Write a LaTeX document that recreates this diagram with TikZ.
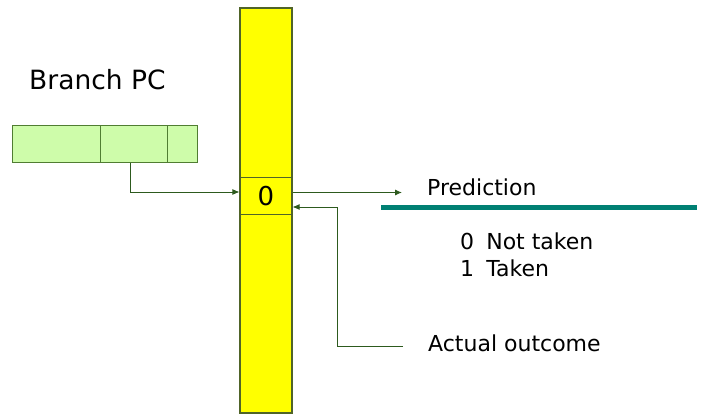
\documentclass[tikz,border=0pt]{standalone}
\usepackage{fontspec}
\setmainfont{DejaVu Sans}
\usetikzlibrary{arrows.meta}
\definecolor{barfill}{RGB}{255,255,0}
\definecolor{barline}{RGB}{80,100,40}
\definecolor{regfill}{RGB}{206,252,170}
\definecolor{regline}{RGB}{80,125,50}
\definecolor{wire}{RGB}{45,90,30}
\definecolor{tealbar}{RGB}{0,128,115}
\tikzset{
  tablecol/.style={draw=barline, fill=barfill, line width=1.1pt, inner sep=0pt},
  regfield/.style={draw=regline, fill=regfill, line width=1pt, inner sep=0pt, minimum height=37pt},
  wireline/.style={draw=wire, line width=0.9pt, -{Latex[length=7pt,width=6pt]}},
  label/.style={font=\fontsize{22}{26}\selectfont, inner sep=0pt, anchor=west},
}
\begin{document}
\begin{tikzpicture}[x=1pt, y=-1pt]
\useasboundingbox (0,0) rectangle (701,414);
% prediction table column
\node[tablecol, minimum width=52pt, minimum height=405pt] (bar) at (266,210.5) {};
\node[tablecol, minimum width=52pt, minimum height=36.5pt, font=\fontsize{26}{30}\selectfont] (cell) at (266,196) {0};
% branch PC register
\node[regfield, minimum width=88pt] (reg1) at (56,144.2) {};
\node[regfield, minimum width=67pt] (reg2) at (133.5,144.2) {};
\node[regfield, minimum width=30pt] (reg3) at (182,144.2) {};
\node[label, font=\fontsize{26.5}{30}\selectfont] (bpc) at (29,80) {Branch PC};
% index into the table
\draw[wireline] ([xshift=-3.5pt]reg2.south) |- ([yshift=4pt]cell.west);
% prediction output
\node[label] (pred) at (427,187) {Prediction};
\coordinate (predtip) at (402,192.5);
\draw[wireline] ([yshift=3.5pt]cell.east) -- (predtip);
\draw[tealbar, line width=4.5pt] (381,207.5) -- (697,207.5);
\node[label] (nt) at (460,241) {0\hspace{0.55em}Not taken};
\node[label] (tk) at (460,268) {1\hspace{0.55em}Taken};
% update with the actual outcome
\node[label] (actual) at (428,343) {Actual outcome};
\coordinate (aend) at (403,346);
\draw[wireline] (aend) -- (337,346) |- ([yshift=-11pt]cell.east);
\end{tikzpicture}
\end{document}
